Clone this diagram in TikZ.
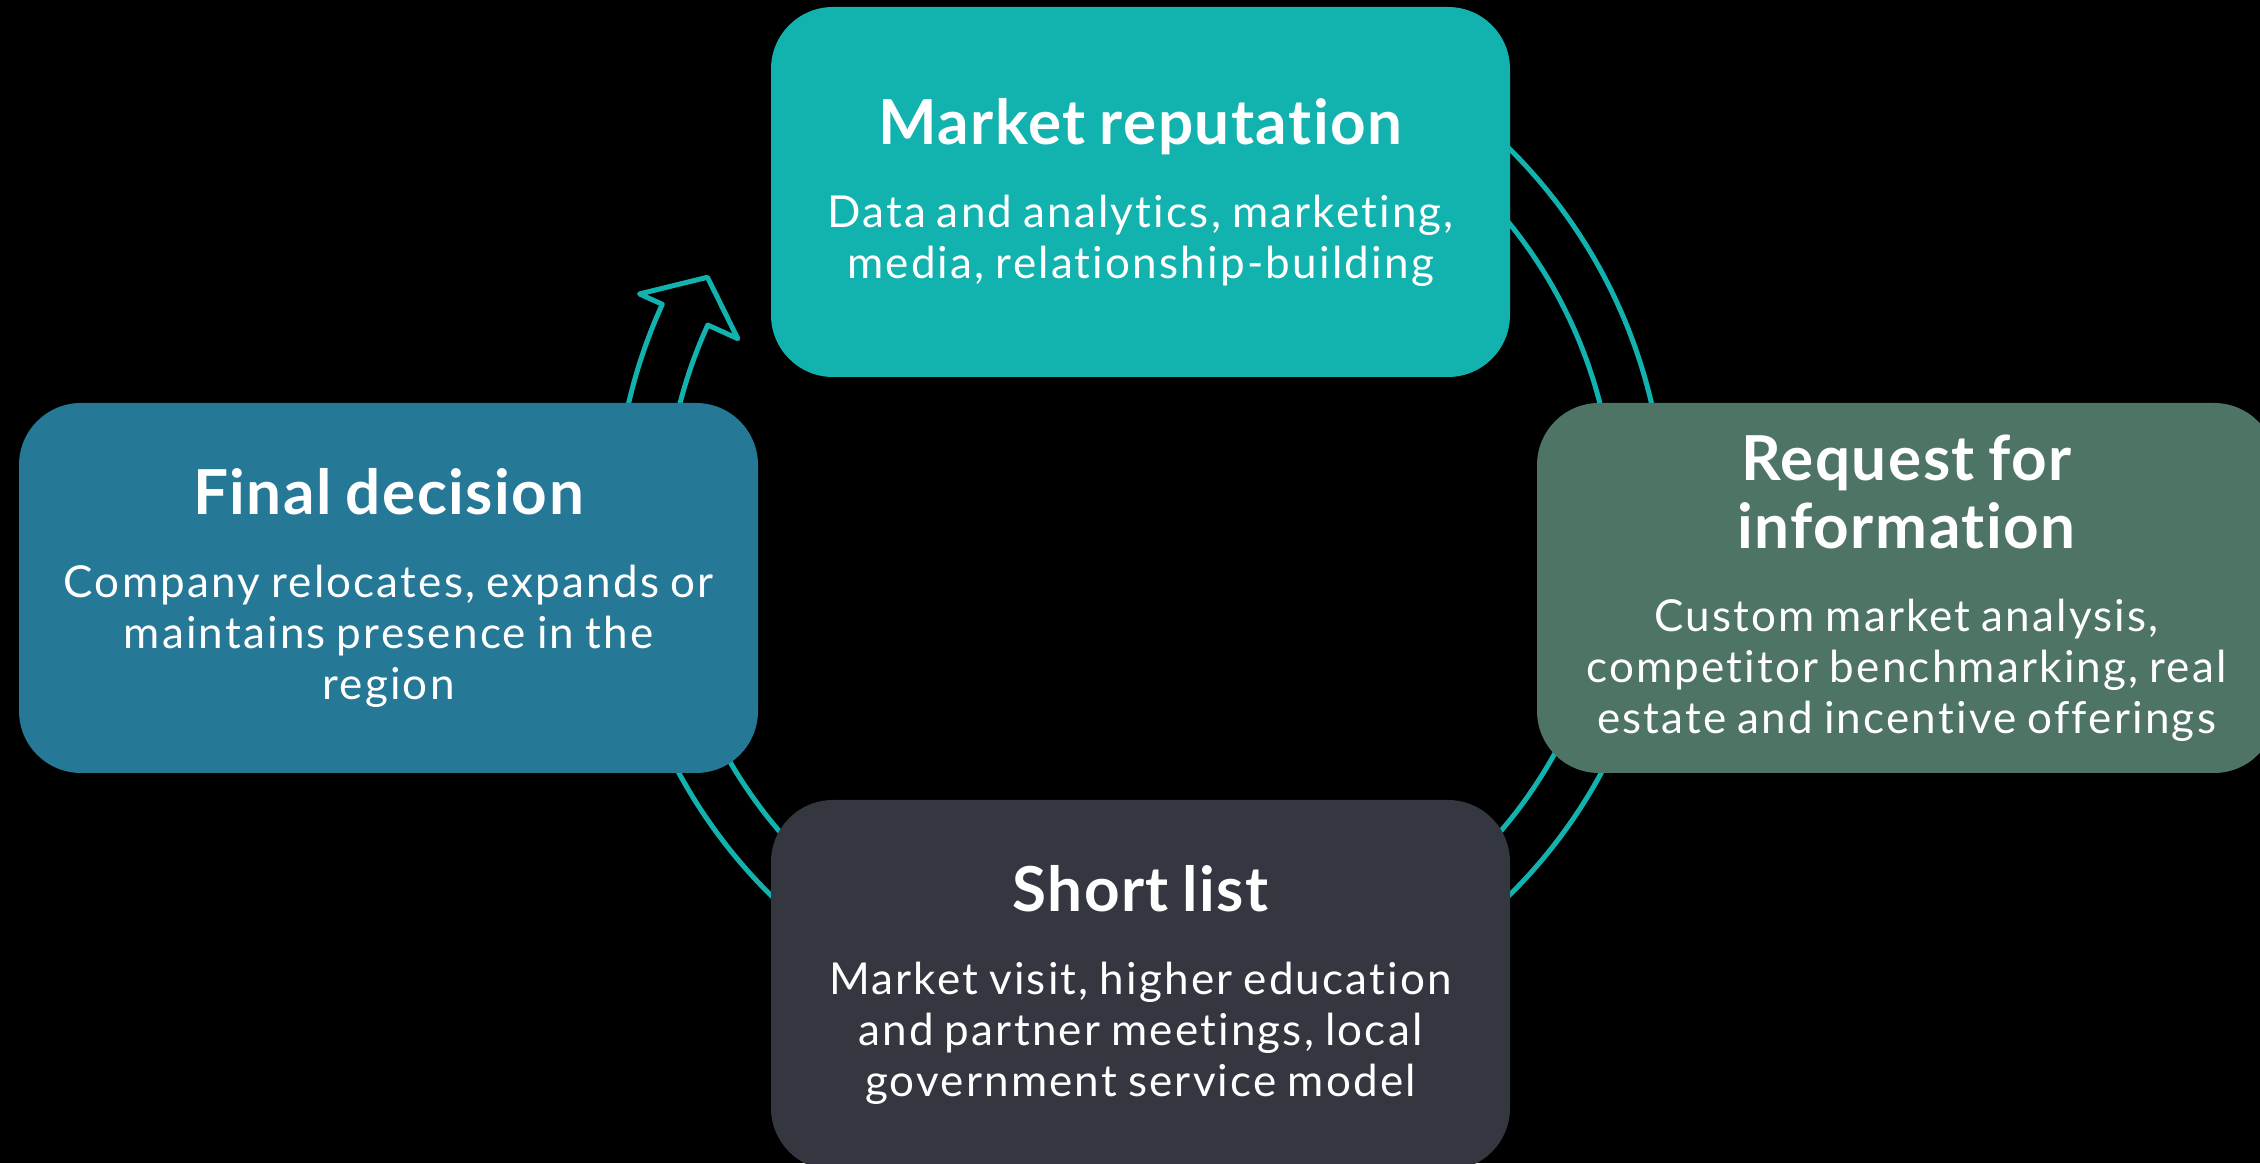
\documentclass[tikz,border=0pt]{standalone}
\usepackage{fontspec}
\setmainfont{Lato}[LetterSpace=2.5, Ligatures=NoCommon]
\usepackage{xcolor}
\usepackage{tikz}
\definecolor{ringteal}{HTML}{12B2AF}
\definecolor{mktcol}{HTML}{12B2AF}
\definecolor{reqcol}{HTML}{4E7466}
\definecolor{shortcol}{HTML}{34373F}
\definecolor{finalcol}{HTML}{267897}
\newcommand{\stagetitle}[1]{{\fontsize{62}{68}\selectfont\bfseries
  \spaceskip=0.22em\relax #1\par}\vspace{32pt}}
\newcommand{\stagetext}[1]{{\fontsize{44}{51}\selectfont
  \addfontfeatures{LetterSpace=5}\spaceskip=0.25em\relax #1\par}}
\tikzset{
  stage/.style = {shape=rectangle, rounded corners=62pt,
          minimum width=739pt, minimum height=370pt,
          text width=730pt, inner sep=0pt, align=center, text=white},
  ring/.style  = {draw=ringteal, line width=5pt, line join=round}
}

\begin{document}
\begin{tikzpicture}[x=1pt, y=1pt]
  \fill[black] (0,0) rectangle (2260,1163);
  \useasboundingbox (0,0) rectangle (2260,1163);
  % circular arrow behind the boxes
  \begin{scope}[shift={(1140,641)}]
    \draw[ring] (70:525) arc[start angle=70, end angle=-204.5, radius=525]
      -- (155.5:550) -- (150.5:497) -- (155.5:442) -- (155.5:475)
      arc[start angle=-204.5, end angle=70, radius=475] -- cycle;
  \end{scope}
  \node [stage, fill=mktcol] (mkt) at (1140.5,971)
    {\stagetitle{Market reputation}%
     \stagetext{Data and analytics, marketing,\\media, relationship-building}};
  \node [stage, fill=reqcol] (rfi) at (1906.5,575)
    {\stagetitle{Request for\\information}%
     \stagetext{Custom market analysis,\\competitor benchmarking, real\\estate and incentive offerings}};
  \node [stage, fill=shortcol] (short) at (1140.5,178)
    {\stagetitle{Short list}%
     \stagetext{Market visit, higher education\\and partner meetings, local\\government service model}};
  \node [stage, fill=finalcol] (final) at (388.5,575)
    {\stagetitle{Final decision}%
     \stagetext{Company relocates, expands or\\maintains presence in the\\region}};
\end{tikzpicture}
\end{document}
